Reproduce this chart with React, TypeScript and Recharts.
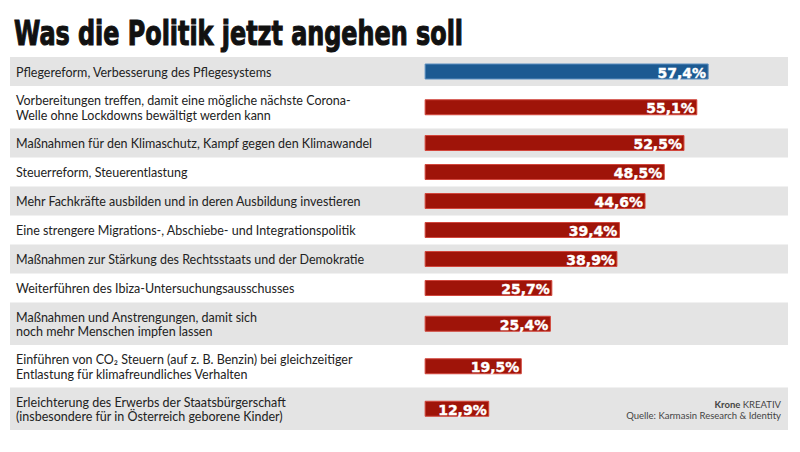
import React from "react";
import { BarChart, Bar, XAxis, YAxis, ReferenceArea, LabelList, Cell } from "recharts";

const title = "Was die Politik jetzt angehen soll";

const categories = [
  "Pflegereform, Verbesserung des Pflegesystems",
  "Vorbereitungen treffen, damit eine mögliche nächste Corona-\nWelle ohne Lockdowns bewältigt werden kann",
  "Maßnahmen für den Klimaschutz, Kampf gegen den Klimawandel",
  "Steuerreform, Steuerentlastung",
  "Mehr Fachkräfte ausbilden und in deren Ausbildung investieren",
  "Eine strengere Migrations-, Abschiebe- und Integrationspolitik",
  "Maßnahmen zur Stärkung des Rechtsstaats und der Demokratie",
  "Weiterführen des Ibiza-Untersuchungsausschusses",
  "Maßnahmen und Anstrengungen, damit sich\nnoch mehr Menschen impfen lassen",
  "Einführen von CO₂ Steuern (auf z. B. Benzin) bei gleichzeitiger\nEntlastung für klimafreundliches Verhalten",
  "Erleichterung des Erwerbs der Staatsbürgerschaft\n(insbesondere für in Österreich geborene Kinder)",
];

const values = [57.4, 55.1, 52.5, 48.5, 44.6, 39.4, 38.9, 25.7, 25.4, 19.5, 12.9];

const highlightIndex = 0;

const sourceBrand = "Krone";
const sourceBrandSuffix = "KREATIV";
const sourceText = "Quelle: Karmasin Research & Identity";

// layout constants
const ROW_BASE = 15.5;
const ROW_PER_LINE = 13.5;
const X_MIN = -84.2;
const X_MAX = 73.6;
const RED = "#9f1409";
const RED_EDGE = "#d2463c";
const BLUE = "#1c5a92";
const BLUE_EDGE = "#5a8ec0";
const BAND = "#e4e4e4";
const LABEL_FONT = "Lato, 'Open Sans', sans-serif";

let acc = 0;
const data = categories.map((name, i) => {
  const lines = name.split("\n").length;
  const h = ROW_BASE + ROW_PER_LINE * lines;
  const top = acc;
  acc += h;
  return { name, value: values[i], top, bottom: acc, mid: top + h / 2 };
});
const TOTAL = acc;

const fmt = (v: number) => v.toFixed(1).replace(".", ",") + "%";

const CategoryLabel = (props: any) => {
  const { y, height, value } = props;
  const cy = Number(y) + Number(height) / 2;
  const lines = String(value).split("\n");
  const lh = 14.5;
  const start = cy - ((lines.length - 1) * lh) / 2;
  return (
    <text
      x={16}
      y={start}
      fill="#222"
      fontSize={12.5}
      fontFamily={LABEL_FONT}
      dominantBaseline="central"
    >
      {lines.map((l, i) => (
        <tspan key={i} x={16} y={start + i * lh} dominantBaseline="central">
          {l}
        </tspan>
      ))}
    </text>
  );
};

const ValueLabel = (props: any) => {
  const { x, y, width, height, value } = props;
  return (
    <text
      x={Number(x) + Number(width) - 2}
      y={Number(y) + Number(height) / 2 + 1}
      fill="#fff"
      fontSize={14}
      fontWeight={700}
      fontFamily="'DejaVu Sans', sans-serif"
      textAnchor="end"
      dominantBaseline="central"
      stroke="#fff"
      strokeWidth={0.4}
    >
      {fmt(Number(value))}
    </text>
  );
};

export default function App() {
  return (
    <div style={{ position: "absolute", left: 0, top: 0, width: 800, height: 452, background: "#fff" }}>
      <svg width={800} height={57} style={{ position: "absolute", left: 0, top: 0 }}>
        <text
          x={14}
          y={45}
          fontSize={34}
          fontWeight={700}
          fontFamily="'Liberation Sans Narrow', 'DejaVu Sans Condensed', sans-serif"
          fill="#111"
          stroke="#111"
          strokeWidth={1.1}
          textLength={449}
          lengthAdjust="spacingAndGlyphs"
        >
          {title}
        </text>
      </svg>
      <div style={{ position: "absolute", left: 0, top: 0 }}>
        <BarChart
          width={800}
          height={452}
          data={data}
          layout="vertical"
          margin={{ top: 57, right: 12, bottom: 452 - 57 - TOTAL, left: 10 }}
        >
          <XAxis type="number" domain={[X_MIN, X_MAX]} allowDataOverflow hide />
          <YAxis type="number" dataKey="mid" domain={[0, TOTAL]} allowDataOverflow hide />
          {data.map((d, i) =>
            i % 2 === 0 ? (
              <ReferenceArea
                key={i}
                y1={d.top}
                y2={d.bottom}
                fill={BAND}
                fillOpacity={1}
                stroke="none"
              />
            ) : null
          )}
          <Bar dataKey="value" barSize={15} isAnimationActive={false} strokeWidth={1}>
            {data.map((d, i) => (
              <Cell
                key={i}
                fill={i === highlightIndex ? BLUE : RED}
                stroke={i === highlightIndex ? BLUE_EDGE : RED_EDGE}
              />
            ))}
            <LabelList dataKey="name" content={CategoryLabel} />
            <LabelList dataKey="value" content={ValueLabel} />
          </Bar>
        </BarChart>
      </div>
      <div
        style={{
          position: "absolute",
          right: 19,
          top: 399,
          textAlign: "right",
          fontFamily: LABEL_FONT,
          fontSize: 9.5,
          lineHeight: "11px",
          color: "#444",
        }}
      >
        <div>
          <b>{sourceBrand}</b> {sourceBrandSuffix}
        </div>
        <div>{sourceText}</div>
      </div>
    </div>
  );
}
